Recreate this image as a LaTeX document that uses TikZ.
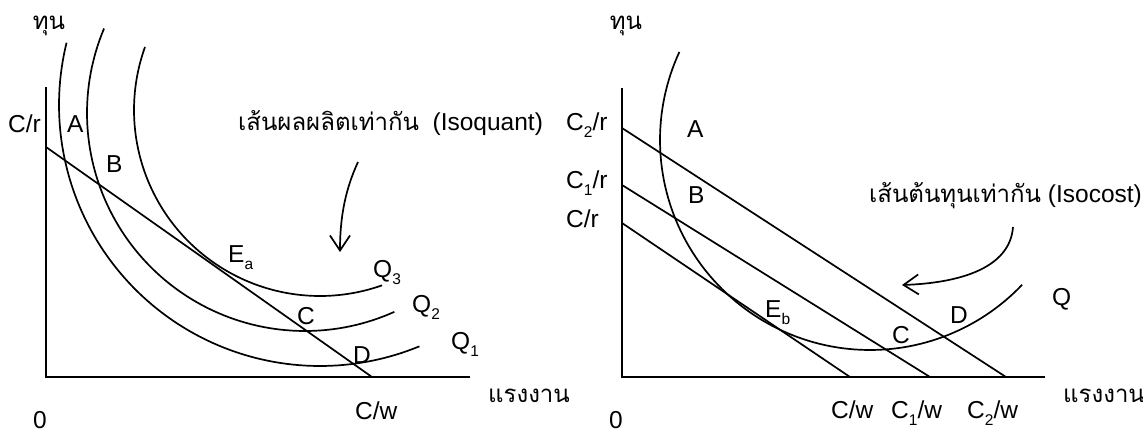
\documentclass[tikz,border=0pt]{standalone}
\usepackage{fontspec}
\setmainfont{Liberation Sans}
\newfontfamily\thaifont[Script=Thai]{Loma}
\usetikzlibrary{arrows.meta}
\newcommand\subd[1]{\raisebox{-0.3em}{\fontsize{15.5}{15.5}\selectfont #1}}
\begin{document}
\begin{tikzpicture}[x=1pt,y=-1pt,
  lbl/.style={inner sep=0pt, anchor=base west, font=\fontsize{24.5}{24.5}\selectfont},
  thl/.style={inner sep=0pt, anchor=base west, font={\thaifont\fontsize{24}{24}\selectfont}},
  curve/.style={line width=1.7pt, line join=round},
  axis/.style={line width=2.2pt},
  pointer/.style={line width=1.7pt, -{Straight Barb[length=15pt,width=20pt,line width=1.7pt]}}]
\useasboundingbox (0,0) rectangle (1143,432);

% ---------------- left panel ----------------
\coordinate (LO) at (46,377);
\coordinate (LY) at (46,87);
\coordinate (LX) at (470,377);
\draw[axis] (LY) -- (LO) -- (LX);
\coordinate (LB0) at (46,147);
\coordinate (LB1) at (372,377);
\draw[curve] (LB0) -- (LB1);

% isoquants Q1, Q2, Q3 (circular arcs)
\draw[curve] plot[domain=193.8:67.6, samples=90, variable=\t] ({320+261*cos(\t)}, {105+261*sin(\t)});
\draw[curve] plot[domain=202.8:65.8, samples=90, variable=\t] ({305+218*cos(\t)}, {113+218*sin(\t)});
\draw[curve] plot[domain=199.8:70.5, samples=90, variable=\t] ({320+186*cos(\t)}, {110+186*sin(\t)});

\node[thl, anchor=center] (LK) at (49,26) {ทุน};
\node[lbl] (LCr) at (8,132) {C/r};
\node[lbl] (LA) at (67,132) {A};
\node[lbl] (LBl) at (106,172) {B};
\node[lbl] (LE) at (228,262) {E\subd{a}};
\node[lbl] (LC) at (297,324) {C};
\node[lbl] (LD) at (353,363) {D};
\node[lbl] (LQ3) at (373,277) {Q\subd{3}};
\node[lbl] (LQ2) at (412,312) {Q\subd{2}};
\node[lbl] (LQ1) at (451,349) {Q\subd{1}};
\node[lbl] (LCw) at (355,419) {C/w};
\node[lbl] (L0) at (33,428) {0};
\node[thl] (LL) at (488,402) {แรงงาน};
\node[lbl] (LIso) at (238,130) {{\thaifont\fontsize{24}{24}\selectfont เส้นผลผลิตเท่ากัน}\ \ (Isoquant)};
\coordinate (LAs) at (358,162);
\coordinate (LAe) at (340,252);
\draw[pointer] (LAs) .. controls (346,188) and (340,215) .. (LAe);

% ---------------- right panel ----------------
\coordinate (RO) at (622,377);
\coordinate (RY) at (622,88);
\coordinate (RX) at (1045,377);
\draw[axis] (RY) -- (RO) -- (RX);
\coordinate (R2a) at (622,128);
\coordinate (R2b) at (1006,377);
\coordinate (R1a) at (622,185);
\coordinate (R1b) at (930,377);
\coordinate (R0a) at (622,223);
\coordinate (R0b) at (850,377);
\draw[curve] (R2a) -- (R2b);
\draw[curve] (R1a) -- (R1b);
\draw[curve] (R0a) -- (R0b);

% isoquant Q (circular arc)
\draw[curve] plot[domain=204.8:43.6, samples=100, variable=\t] ({870+210*cos(\t)}, {140+210*sin(\t)});

\node[thl, anchor=center] (RK) at (626,26) {ทุน};
\node[lbl] (RC2r) at (566,130) {C\subd{2}/r};
\node[lbl] (RC1r) at (566,188) {C\subd{1}/r};
\node[lbl] (RCr) at (566,227) {C/r};
\node[lbl] (RA) at (687,137) {A};
\node[lbl] (RBl) at (688,203) {B};
\node[lbl] (RE) at (765,317) {E\subd{b}};
\node[lbl] (RC) at (892,343) {C};
\node[lbl] (RD) at (950,323) {D};
\node[lbl] (RQ) at (1052,305) {Q};
\node[lbl] (RCw) at (831,418) {C/w};
\node[lbl] (RC1w) at (891,418) {C\subd{1}/w};
\node[lbl] (RC2w) at (967,418) {C\subd{2}/w};
\node[lbl] (R0) at (609,428) {0};
\node[thl] (RL) at (1063,402) {แรงงาน};
\node[lbl] (RIso) at (869,202) {{\thaifont\fontsize{24}{24}\selectfont เส้นต้นทุนเท่ากัน} (Isocost)};
\coordinate (RAs) at (1013,227);
\coordinate (RAe) at (902,285);
\draw[pointer] (RAs) .. controls (1010,268) and (960,283) .. (RAe);
\end{tikzpicture}
\end{document}
